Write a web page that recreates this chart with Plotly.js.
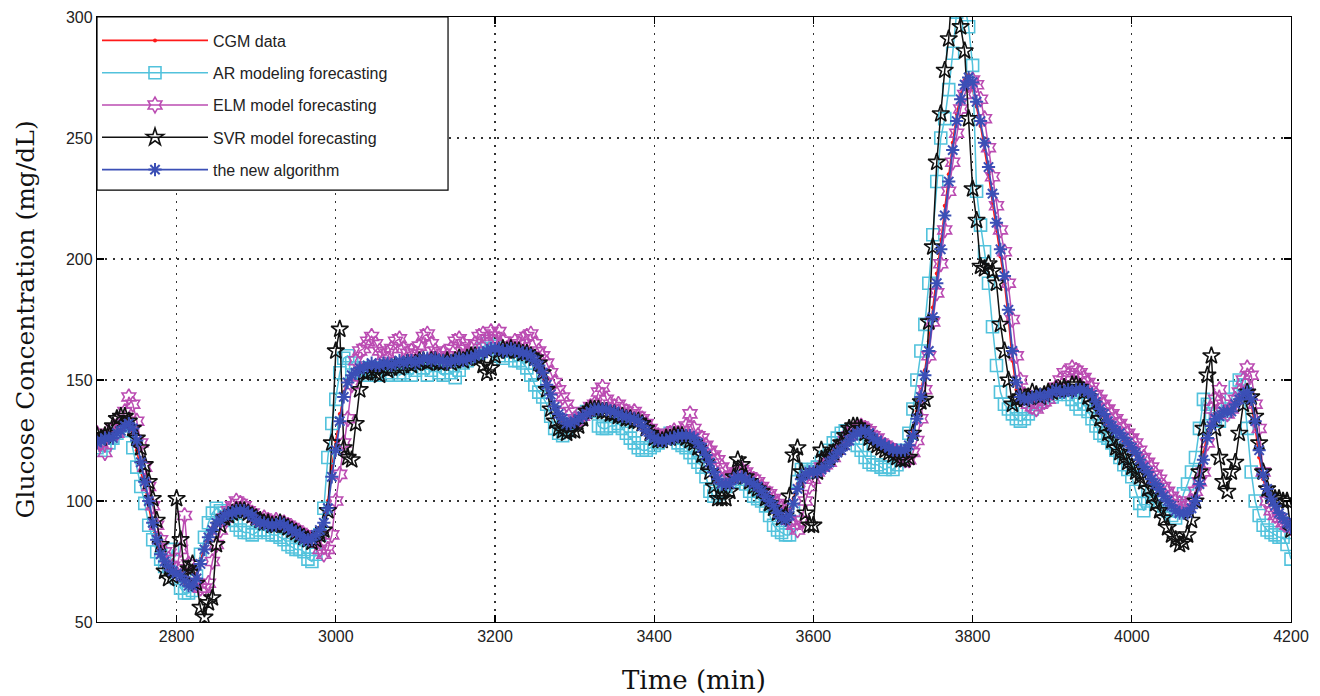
<!DOCTYPE html>
<html>
<head>
<meta charset="utf-8">
<script src="https://cdn.plot.ly/plotly-3.0.1.min.js"></script>
<style>html,body{margin:0;padding:0;background:#fff;}#chart{width:1320px;height:696px;}</style>
</head>
<body>
<div id="chart"></div>
<script>
// sampling: every 5 min from 2700 to 4200
const startTime = 2700;
const stepMin = 5;

const cgmData = [
125,126,126,125,127,128,130,131,131,128,121,112,106,97,89,82,77,74,72,71,
70,68,66,65,66,70,76,81,86,89,91,93,94,95,96,96,96,96,95,93,
92,91,91,91,90,91,91,90,89,88,87,85,84,84,85,86,89,92,100,114,
125,136,145,150,152,154,155,156,156,157,156,157,157,156,157,158,157,158,158,157,
158,159,159,158,159,158,158,157,158,158,159,158,159,159,160,161,161,162,163,163,
163,162,162,163,162,162,161,161,160,159,157,155,151,146,142,138,135,133,132,133,
134,135,136,137,138,138,138,138,137,137,136,136,135,134,134,133,132,130,128,126,
125,125,125,126,126,127,127,127,127,126,125,123,121,118,114,110,108,107,107,108,
110,110,109,108,107,106,105,103,101,99,97,94,93,93,96,101,107,110,112,112,
112,113,114,115,117,119,120,122,124,126,127,128,129,128,127,125,124,123,122,121,
121,121,121,122,125,129,137,146,154,166,180,194,208,222,235,248,260,268,274,276,
270,263,255,245,235,223,212,201,190,175,158,146,142,143,142,143,144,143,144,145,
146,145,145,146,145,146,146,146,145,144,143,140,137,135,132,130,129,127,125,123,
121,119,116,113,111,108,106,104,101,99,97,96,95,95,96,98,102,110,120,128,
132,134,136,137,137,138,141,143,145,144,140,130,118,109,103,100,97,95,92,90,
88];

const arForecast = [
122,121,123,124,126,128,131,132,129,122,114,106,99,90,84,79,76,73,73,80,
68,64,62,62,63,69,78,85,91,95,97,96,95,94,92,90,88,87,87,86,
87,88,88,87,86,86,85,84,82,81,80,80,79,76,75,78,86,97,118,132,
142,153,159,160,157,155,153,152,154,155,152,153,155,152,153,156,152,153,155,152,
154,157,155,152,154,156,153,152,155,153,151,154,157,158,160,160,161,163,165,166,
164,160,159,162,160,158,158,157,155,152,148,145,143,140,135,130,128,127,129,132,
133,134,136,137,138,137,131,130,130,131,131,132,130,128,126,124,122,121,121,122,
123,124,126,127,128,126,124,123,122,120,118,116,114,110,104,102,103,104,106,108,
108,110,109,107,104,102,101,100,98,94,90,88,87,86,86,96,108,113,113,112,
113,114,116,118,121,124,126,128,129,128,126,123,121,118,116,115,115,114,113,114,
113,115,117,121,128,138,150,162,173,190,210,232,250,258,270,285,302,306,305,296,
280,228,214,203,190,172,156,145,140,138,136,134,133,134,136,138,140,141,142,143,
143,144,145,146,144,142,140,138,140,137,134,131,128,127,126,124,121,118,115,113,
110,104,99,96,100,104,102,100,98,96,94,93,96,103,107,112,118,130,142,140,
136,134,133,136,138,142,147,150,148,130,112,100,94,90,88,87,86,85,85,82,
76];

const elmForecast = [
128,124,120,127,130,128,132,137,143,140,133,124,114,106,98,90,84,79,76,73,
72,80,94,74,70,66,64,64,66,75,82,88,93,96,98,100,99,98,96,95,
93,92,93,92,91,92,91,91,90,89,88,87,86,85,84,83,80,78,80,86,
100,111,124,134,148,158,162,163,166,168,165,162,160,161,163,166,167,163,161,162,
161,164,168,169,165,162,160,161,160,163,166,167,165,161,163,165,168,169,167,170,
168,170,166,163,164,166,165,167,168,169,165,162,160,157,153,149,146,143,140,137,
134,133,135,137,139,140,145,147,142,140,139,140,138,137,136,137,135,134,132,130,
128,127,126,127,128,129,128,129,131,136,130,127,126,123,121,119,117,114,112,110,
110,112,113,112,110,109,108,106,104,103,101,99,97,95,92,90,88,92,100,106,
109,112,114,115,116,118,121,123,125,127,129,130,131,130,129,127,126,124,123,122,
121,120,119,117,117,120,125,134,146,160,174,186,198,212,228,240,252,262,268,272,
274,272,266,258,246,234,222,212,203,190,175,160,150,144,140,139,138,140,141,142,
145,147,150,153,152,155,154,153,151,149,147,144,142,140,138,136,134,132,130,128,
126,124,121,118,116,114,111,109,106,104,102,100,99,97,98,100,104,108,112,124,
138,142,146,140,136,138,142,145,150,155,152,140,130,112,100,96,94,93,91,90,
89];

const svrForecast = [
127,126,127,128,131,134,135,135,133,130,126,122,115,108,101,92,82,71,68,69,
101,84,70,72,74,66,56,52,58,60,82,90,93,94,95,96,96,96,95,94,
93,92,91,91,90,90,91,90,89,88,87,86,85,84,83,84,86,88,96,124,
162,171,122,118,117,132,146,153,153,154,153,152,155,154,155,156,155,156,157,156,
157,158,158,157,158,158,157,157,158,157,158,159,158,159,160,160,159,156,153,155,
160,162,163,162,163,162,162,161,161,160,159,157,153,146,138,133,130,129,128,129,
129,131,134,137,138,138,138,137,137,136,136,135,135,134,134,133,133,132,130,128,
126,125,125,126,126,127,127,127,126,125,124,122,119,116,112,106,101,101,101,104,
110,117,115,110,108,106,105,104,101,99,97,95,93,94,102,119,122,112,95,90,
90,112,121,118,118,120,122,124,127,130,131,131,130,128,126,124,123,122,121,120,
119,118,117,117,118,128,138,141,142,174,205,240,260,278,291,315,322,296,286,258,
229,216,197,196,198,195,190,173,162,150,140,142,143,142,143,145,144,143,144,145,
145,146,146,147,146,148,148,147,145,143,140,137,134,131,128,125,122,120,118,116,
114,112,110,108,105,102,99,96,93,89,86,84,82,83,86,92,100,112,130,152,
160,130,118,108,104,112,116,128,140,145,143,135,124,112,105,102,101,101,100,100,
88];

const newAlgorithm = [
124,125,126,126,126,128,129,131,132,130,125,116,108,100,91,84,78,75,73,71,
70,69,67,65,65,68,74,80,85,88,91,92,94,95,95,96,96,96,95,94,
92,91,91,90,90,90,91,90,89,88,87,86,84,84,84,86,88,91,97,110,
121,133,143,149,152,153,155,155,156,157,156,156,157,157,156,157,158,157,158,158,
157,158,159,159,158,159,158,158,157,158,158,159,158,159,159,160,161,161,162,163,
163,163,162,162,163,162,162,161,161,160,158,156,153,148,144,139,136,134,132,132,
133,134,135,136,137,138,138,138,138,137,137,136,135,135,134,134,133,131,129,127,
126,125,125,125,126,126,127,127,127,127,126,124,122,119,116,112,109,107,107,107,
109,110,110,109,108,107,106,104,102,100,98,95,93,92,94,99,105,109,111,112,
112,112,113,114,116,118,120,121,123,125,127,128,129,129,128,126,125,124,123,122,
121,121,121,121,123,127,134,143,152,162,176,190,204,218,232,245,257,266,272,275,
273,265,257,248,238,227,215,204,193,179,162,149,143,142,142,143,143,144,143,144,
145,146,145,145,146,145,146,146,146,145,144,141,138,136,133,131,129,128,126,124,
122,120,117,114,112,109,107,105,102,100,98,96,95,95,95,97,100,107,117,126,
131,134,135,137,137,137,140,142,144,145,142,133,121,111,105,101,98,95,93,91,
89];

const seriesNames = ['CGM data','AR modeling forecasting','ELM model forecasting','SVR model forecasting','the new algorithm'];
const xTicks = [2800,3000,3200,3400,3600,3800,4000,4200];
const yTicks = [50,100,150,200,250,300];
const xTitle = 'Time (min)';
const yTitle = 'Glucose Concentration (mg/dL)';

const timeMin = cgmData.map((_, i) => startTime + i * stepMin);

function tr(name, y, color, symbol, size, lw, linew) {
  return {
    x: timeMin, y: y, name: name, type: 'scatter', mode: 'lines+markers',
    legendgroup: name,
    line: {color: color, width: linew},
    marker: {symbol: symbol, size: size, color: color, line: {color: color, width: lw}}
  };
}

const traces = [
  tr(seriesNames[0], cgmData, '#ff1a1a', 'circle', 4, 0, 1.6),
  tr(seriesNames[1], arForecast, '#52c2dc', 'square-open', 12, 1.6, 1.5),
  tr(seriesNames[2], elmForecast, '#bb4cb2', 'hexagram-open', 12, 1.6, 1.5),
  tr(seriesNames[3], svrForecast, '#111111', 'star-open', 13, 1.6, 1.5),
  tr(seriesNames[4], newAlgorithm, '#3b4fb6', 'asterisk-open', 11, 2, 1.8)
];

const axisCommon = {
  showline: true, linecolor: '#000', linewidth: 1.2, mirror: 'ticks',
  ticks: 'inside', ticklen: 7, tickcolor: '#000', tickwidth: 1.2,
  showgrid: true, gridcolor: '#333', gridwidth: 1.2, griddash: '2px,6px',
  zeroline: false,
  tickfont: {family: 'Liberation Sans, Arial, sans-serif', size: 16, color: '#222'}
};

const layout = {
  width: 1320, height: 696,
  margin: {l: 97, r: 29, t: 17, b: 74},
  paper_bgcolor: '#fff', plot_bgcolor: '#fff',
  showlegend: true,
  legend: {
    x: 0, y: 1, xanchor: 'left', yanchor: 'top',
    bgcolor: 'rgba(0,0,0,0)', bordercolor: '#000', borderwidth: 0,
    font: {family: 'Liberation Sans, Arial, sans-serif', size: 16, color: '#222'},
    title: {text: ' ', font: {size: 5}},
    traceorder: 'grouped', tracegroupgap: 8.5, itemwidth: 106
  },
  shapes: [{
    type: 'rect', xref: 'paper', yref: 'paper', layer: 'above',
    x0: 0, x1: 0.294, y0: 0.714, y1: 1,
    fillcolor: '#fff', line: {color: '#000', width: 1.2}
  }],
  annotations: [{
    text: yTitle, xref: 'paper', yref: 'paper', x: 0, y: 0.5,
    xanchor: 'center', yanchor: 'middle', xshift: -72, textangle: -90,
    showarrow: false, font: {family: 'DejaVu Serif, serif', size: 25, color: '#111'}
  }],
  xaxis: Object.assign({}, axisCommon, {
    range: [2700, 4200], tickmode: 'array', tickvals: xTicks,
    title: {text: xTitle, font: {family: 'DejaVu Serif, serif', size: 26, color: '#111'}, standoff: 26}
  }),
  yaxis: Object.assign({}, axisCommon, {
    range: [50, 300], tickmode: 'array', tickvals: yTicks
  })
};

Plotly.newPlot('chart', traces, layout, {displayModeBar: false, staticPlot: true});
</script>
</body>
</html>
